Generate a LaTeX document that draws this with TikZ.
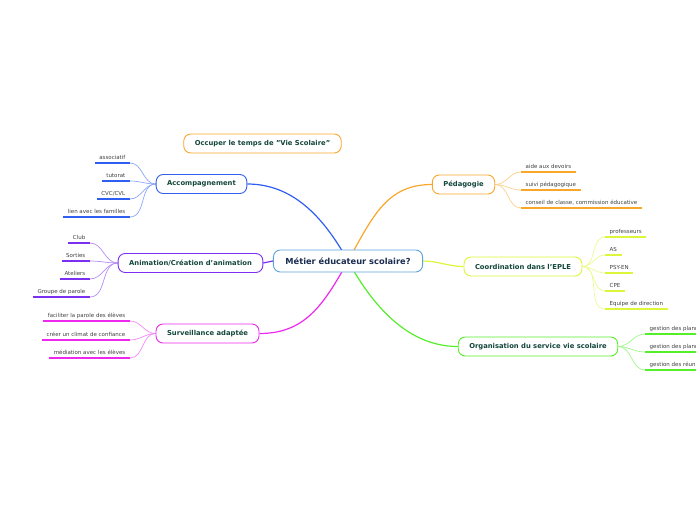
\documentclass[tikz,border=0pt]{standalone}
\usepackage{fontspec}
\setmainfont{DejaVu Sans}
\usetikzlibrary{backgrounds}

\definecolor{cblue}{HTML}{2F5EF0}
\definecolor{cpurple}{HTML}{7B2FF0}
\definecolor{cmagenta}{HTML}{EE28EE}
\definecolor{corange}{HTML}{F9A72B}
\definecolor{clime}{HTML}{DDF53A}
\definecolor{cgreen}{HTML}{55EE2A}
\definecolor{ccentre}{HTML}{5AA2DC}
\definecolor{ttopic}{HTML}{13473A}
\definecolor{tcentre}{HTML}{1B2D50}
\definecolor{tleaf}{HTML}{404040}

\begin{document}
\begin{tikzpicture}[
  x=1pt,y=-1pt,
  centre/.style={draw=ccentre,line width=0.9pt,rounded corners=7pt,fill=white,text=tcentre,
    font=\bfseries\fontsize{8.3}{10}\selectfont,inner xsep=12pt,minimum height=22pt},
  topic/.style={draw=#1,line width=0.9pt,rounded corners=7pt,fill=white,text=ttopic,
    font=\bfseries\fontsize{6.8}{8}\selectfont,inner xsep=11pt,minimum height=19pt},
  leaf/.style={anchor=south east,inner xsep=4.5pt,inner ysep=2pt,text height=4pt,text depth=1.2pt,
    text=tleaf,font=\fontsize{5.5}{6.5}\selectfont,
    append after command={(\tikzlastnode.south west) edge[draw=#1,line width=1.6pt] (\tikzlastnode.south east)}},
  rleaf/.style={leaf=#1,anchor=south west},
  branch/.style={draw=#1,line width=1.2pt},
  twig/.style={draw=#1!55,line width=0.7pt},
]
\useasboundingbox (0,0) rectangle (696,520);
\clip (0,0) rectangle (696,520);

\node[centre] (metier) at (348,261) {Métier éducateur scolaire?};
\node[topic=corange] (occuper) at (262.5,143.5) {Occuper le temps de "Vie Scolaire"};

%% left side
\node[topic=cblue] (accomp) at (201.5,184) {Accompagnement};
\node[topic=cpurple] (anim) at (190.5,263) {Animation/Création d'animation};
\node[topic=cmagenta] (surv) at (207.5,333.5) {Surveillance adaptée};

\node[leaf=cblue] (associatif) at (130,163) {associatif};
\node[leaf=cblue] (tutorat) at (130,181) {tutorat};
\node[leaf=cblue] (cvc) at (130,199) {CVC/CVL};
\node[leaf=cblue] (familles) at (130,217) {lien avec les familles};

\node[leaf=cpurple] (club) at (90,243) {Club};
\node[leaf=cpurple] (sorties) at (90,261) {Sorties};
\node[leaf=cpurple] (ateliers) at (90,279) {Ateliers};
\node[leaf=cpurple] (groupe) at (90,297) {Groupe de parole};

\node[leaf=cmagenta] (parole) at (130,321) {faciliter la parole des élèves};
\node[leaf=cmagenta] (climat) at (130,340) {créer un climat de confiance};
\node[leaf=cmagenta] (mediation) at (130,358) {médiation avec les élèves};

%% right side
\node[topic=corange] (peda) at (463.5,184.5) {Pédagogie};
\node[topic=clime] (coord) at (523,266.5) {Coordination dans l'EPLE};
\node[topic=cgreen] (orga) at (538,346.5) {Organisation du service vie scolaire};

\node[rleaf=corange] (devoirs) at (521,172) {aide aux devoirs};
\node[rleaf=corange] (suivi) at (521,190) {suivi pédagogique};
\node[rleaf=corange] (conseil) at (521,208) {conseil de classe, commission éducative};

\node[rleaf=clime] (profs) at (605,237) {professeurs};
\node[rleaf=clime] (as) at (605,255) {AS};
\node[rleaf=clime] (psy) at (605,273) {PSY-EN};
\node[rleaf=clime] (cpe) at (605,291) {CPE};
\node[rleaf=clime] (direction) at (605,309) {Equipe de direction};

\node[rleaf=cgreen] (plan1) at (645,334) {gestion des plannings};
\node[rleaf=cgreen] (plan2) at (645,352) {gestion des plannings};
\node[rleaf=cgreen] (reunions) at (645,370) {gestion des réunions};

\begin{scope}[on background layer]
\draw[branch=cblue] (metier.center) .. controls +(-25,-45) and +(45,0) .. (accomp.east);
\draw[branch=corange] (metier.center) .. controls +(25,-45) and +(-45,0) .. (peda.west);
\draw[branch=cmagenta] (metier.center) .. controls +(-25,45) and +(45,0) .. (surv.east);
\draw[branch=cgreen] (metier.center) .. controls +(25,45) and +(-50,0) .. (orga.west);
\draw[branch=cpurple] (metier.west) -- (anim.east);
\draw[branch=clime] (metier.east) .. controls +(15,0) and +(-15,0) .. (coord.west);

\draw[twig=cblue] (associatif.south east) to[out=0,in=180] (accomp.west);
\draw[twig=cblue] (tutorat.south east) to[out=0,in=180] (accomp.west);
\draw[twig=cblue] (cvc.south east) to[out=0,in=180] (accomp.west);
\draw[twig=cblue] (familles.south east) to[out=0,in=180] (accomp.west);

\draw[twig=cpurple] (club.south east) to[out=0,in=180] (anim.west);
\draw[twig=cpurple] (sorties.south east) to[out=0,in=180] (anim.west);
\draw[twig=cpurple] (ateliers.south east) to[out=0,in=180] (anim.west);
\draw[twig=cpurple] (groupe.south east) to[out=0,in=180] (anim.west);

\draw[twig=cmagenta] (parole.south east) to[out=0,in=180] (surv.west);
\draw[twig=cmagenta] (climat.south east) to[out=0,in=180] (surv.west);
\draw[twig=cmagenta] (mediation.south east) to[out=0,in=180] (surv.west);

\draw[twig=corange] (peda.east) to[out=0,in=180] (devoirs.south west);
\draw[twig=corange] (peda.east) to[out=0,in=180] (suivi.south west);
\draw[twig=corange] (peda.east) to[out=0,in=180] (conseil.south west);

\draw[twig=clime] (coord.east) to[out=0,in=180] (profs.south west);
\draw[twig=clime] (coord.east) to[out=0,in=180] (as.south west);
\draw[twig=clime] (coord.east) to[out=0,in=180] (psy.south west);
\draw[twig=clime] (coord.east) to[out=0,in=180] (cpe.south west);
\draw[twig=clime] (coord.east) to[out=0,in=180] (direction.south west);

\draw[twig=cgreen] (orga.east) to[out=0,in=180] (plan1.south west);
\draw[twig=cgreen] (orga.east) to[out=0,in=180] (plan2.south west);
\draw[twig=cgreen] (orga.east) to[out=0,in=180] (reunions.south west);
\end{scope}
\end{tikzpicture}
\end{document}
